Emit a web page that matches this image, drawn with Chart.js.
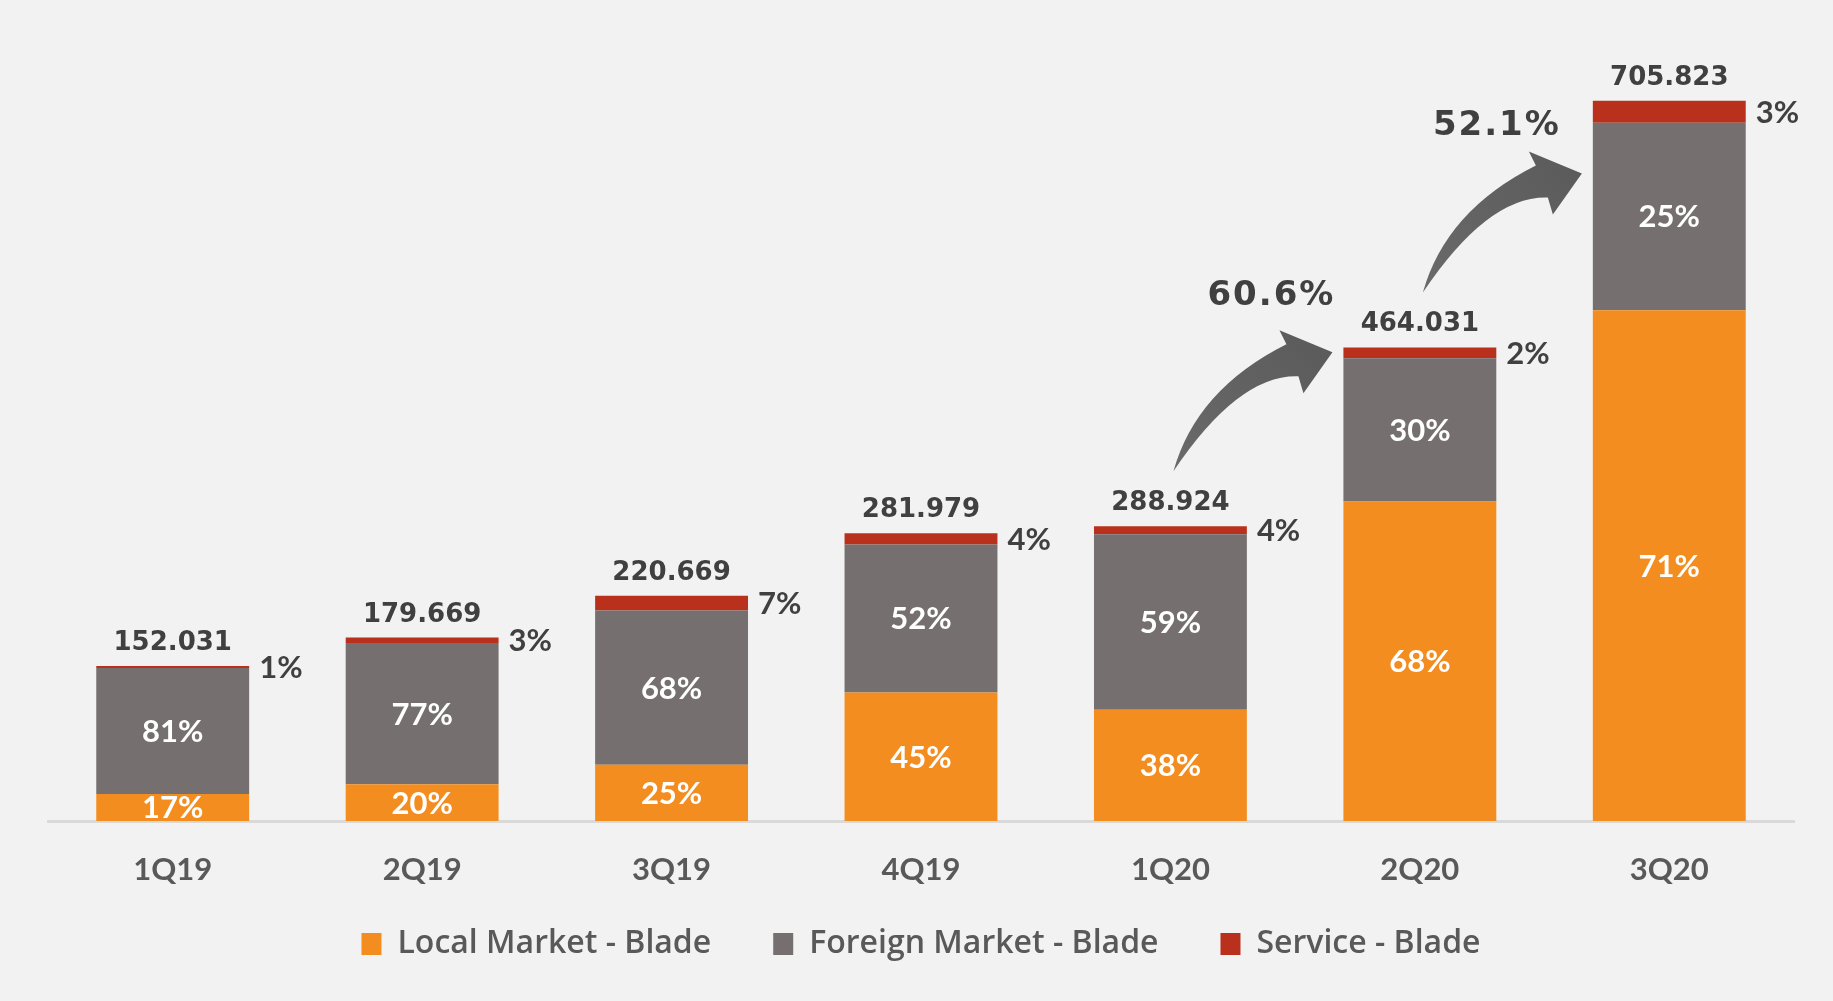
<!DOCTYPE html>
<html><head><meta charset="utf-8">
<script src="https://cdn.jsdelivr.net/npm/chart.js@4/dist/chart.umd.min.js"></script>
<style>html,body{margin:0;padding:0;background:#F2F2F2;overflow:hidden}#wrap{width:1833px;height:1001px}</style>
</head><body><div id="wrap"><canvas id="c" width="1833" height="1001"></canvas></div>
<script>
const categories = ['1Q19','2Q19','3Q19','4Q19','1Q20','2Q20','3Q20'];
const localMarket = [26.5, 36.0, 55.2, 126.0, 109.0, 313.0, 500.5];
const foreignMarket = [123.5, 138.3, 151.0, 145.0, 172.0, 140.5, 183.8];
const service = [2.0, 5.4, 14.5, 11.0, 7.9, 10.5, 21.5];
const totalLabels = ['152.031','179.669','220.669','281.979','288.924','464.031','705.823'];
const localPct = ['17%','20%','25%','45%','38%','68%','71%'];
const foreignPct = ['81%','77%','68%','52%','59%','30%','25%'];
const servicePct = ['1%','3%','7%','4%','4%','2%','3%'];
const growthFromIndex = [4, 5];
const growthLabels = ['60.6%','52.1%'];

const DARK = '#404040';
const growthLabelOffsets = [[98, -175], [74, -166]];

const labelPlugin = {
  id: 'customLabels',
  afterDatasetsDraw(chart) {
    const ctx = chart.ctx;
    const area = chart.chartArea;
    const mL = chart.getDatasetMeta(0), mF = chart.getDatasetMeta(1), mS = chart.getDatasetMeta(2);
    ctx.save();
    ctx.beginPath();
    ctx.rect(0, 0, chart.width, area.bottom);
    ctx.clip();
    ctx.fillStyle = '#FFFFFF';
    ctx.font = 'bold 31px Lato';
    ctx.textAlign = 'center';
    ctx.textBaseline = 'middle';
    [[mL, localPct], [mF, foreignPct]].forEach(([meta, arr]) => {
      meta.data.forEach((el, i) => {
        ctx.fillText(arr[i], el.x, (el.y + el.base) / 2 + 1);
      });
    });
    ctx.restore();

    ctx.save();
    ctx.fillStyle = DARK;
    ctx.font = 'bold 31px Lato';
    ctx.textAlign = 'left';
    ctx.textBaseline = 'middle';
    mS.data.forEach((el, i) => {
      ctx.fillText(servicePct[i], el.x + el.width / 2 + 10, (el.y + el.base) / 2 + 1);
    });
    ctx.font = 'bold 26px "DejaVu Sans"';
    ctx.textAlign = 'center';
    ctx.textBaseline = 'alphabetic';
    mS.data.forEach((el, i) => {
      ctx.fillText(totalLabels[i], el.x, el.y - 16);
    });
    growthFromIndex.forEach((idx, k) => {
      const el = mS.data[idx];
      const tx = el.x + 3, ty = el.y - 55;
      ctx.save();
      ctx.translate(tx, ty);
      const g = ctx.createLinearGradient(0, 0, 159, -140);
      g.addColorStop(0, '#6a6a6a');
      g.addColorStop(1, '#5a5a5a');
      ctx.fillStyle = g;
      ctx.beginPath();
      ctx.moveTo(0, 0);
      ctx.quadraticCurveTo(23, -82, 113, -127);
      ctx.lineTo(106, -141);
      ctx.lineTo(159, -119);
      ctx.lineTo(130, -78);
      ctx.lineTo(125, -95);
      ctx.quadraticCurveTo(65, -97, 0, 0);
      ctx.closePath();
      ctx.fill();
      ctx.restore();
      ctx.font = 'bold 34px "DejaVu Sans"';
      ctx.letterSpacing = '2px';
      ctx.textAlign = 'center';
      ctx.textBaseline = 'middle';
      ctx.fillStyle = DARK;
      ctx.fillText(growthLabels[k], tx + growthLabelOffsets[k][0], ty + growthLabelOffsets[k][1]);
      ctx.letterSpacing = '0px';
    });
    ctx.restore();
  }
};

new Chart(document.getElementById('c'), {
  type: 'bar',
  data: {
    labels: categories,
    datasets: [
      { label: 'Local Market - Blade', data: localMarket, backgroundColor: '#F38D1F' },
      { label: 'Foreign Market - Blade', data: foreignMarket, backgroundColor: '#75706F' },
      { label: 'Service - Blade', data: service, backgroundColor: '#B9301D' }
    ]
  },
  options: {
    responsive: false,
    animation: false,
    devicePixelRatio: 1,
    layout: { padding: { left: 48, right: 39, top: 25, bottom: 31 } },
    datasets: { bar: { categoryPercentage: 1, barPercentage: 0.613 } },
    scales: {
      x: {
        stacked: true,
        grid: { display: false, drawTicks: false },
        border: { color: '#D9D9D9', width: 3 },
        ticks: { color: '#595959', font: { family: 'Lato', weight: 'bold', size: 31 }, padding: 30 },
        afterFit(scale) {
          scale.height = 45;
          scale._computeLabelArea = () => null;
        }
      },
      y: { stacked: true, display: false, min: 0, max: 780 }
    },
    plugins: {
      legend: {
        position: 'bottom',
        labels: { boxWidth: 20, boxHeight: 22, padding: 62, color: '#595959', font: { family: 'Open Sans', weight: '600', size: 32 } }
      },
      tooltip: { enabled: false }
    }
  },
  plugins: [labelPlugin]
});
</script>
</body></html>
